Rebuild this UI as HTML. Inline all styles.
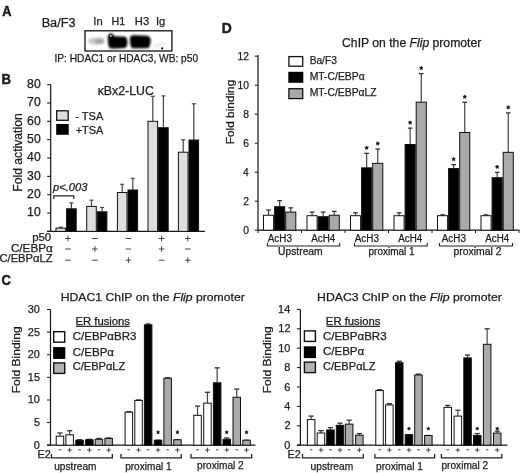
<!DOCTYPE html>
<html><head><meta charset="utf-8"><style>
html,body{margin:0;padding:0;background:#fff;overflow:hidden;}
svg{display:block;font-family:"Liberation Sans", sans-serif;will-change:transform;}
text{fill:#1c1c1c;stroke:#1c1c1c;stroke-width:0.25px;}
</style></head><body>
<svg width="520" height="473" viewBox="0 0 520 473">
<defs><filter id="blur1" x="-50%" y="-50%" width="200%" height="200%"><feGaussianBlur stdDeviation="0.8"/></filter><filter id="blur2" x="-100%" y="-100%" width="300%" height="300%"><feGaussianBlur stdDeviation="0.4"/></filter></defs>
<rect width="520" height="473" fill="#fff"/>
<text x="2.18" y="15.50" font-size="14.2" font-weight="bold" textLength="9.27" lengthAdjust="spacingAndGlyphs" style="stroke-width:0.5px">A</text>
<text x="41.65" y="27.00" font-size="12.3" textLength="33.89" lengthAdjust="spacingAndGlyphs" >Ba/F3</text>
<text x="93.36" y="24.60" font-size="10.8" textLength="9.36" lengthAdjust="spacingAndGlyphs" >In</text>
<text x="111.42" y="24.60" font-size="10.8" textLength="13.70" lengthAdjust="spacingAndGlyphs" >H1</text>
<text x="134.88" y="24.60" font-size="10.8" textLength="14.31" lengthAdjust="spacingAndGlyphs" >H3</text>
<text x="155.96" y="24.60" font-size="10.8" textLength="9.36" lengthAdjust="spacingAndGlyphs" >Ig</text>
<rect x="85.00" y="30.80" width="86.90" height="20.20" fill="#fff" stroke="#111" stroke-width="1.3"/>
<g filter="url(#blur1)">
<path d="M88,40.5 Q89,37.5 94,38 Q100,37 103.5,38.5 Q105,41 104,43.5 Q99,45 93,44.5 Q88.5,44 88,40.5 Z" fill="#c6c6c6"/>
<path d="M95,39.5 Q100,38.3 103.3,39.5 Q104,42 103,43.2 Q99,44 95.5,43.5 Z" fill="#a2a2a2"/>
<path d="M107.8,38 Q108,34.2 111,33.8 Q113.5,34.5 114,36.2 Q120,36 125.5,36.8 Q127.6,38.5 127.4,42 Q127.5,46.5 125,48 Q117,48.8 110,48.2 Q107.6,46 107.8,38 Z" fill="#030303"/>
<path d="M130,37.5 Q130.5,35.2 134,35.3 Q142,35.6 148,36 Q150.8,37 150.7,41 Q150.5,45 148.5,48 Q140,48.5 132,48.3 Q129.8,46 130,37.5 Z" fill="#030303"/>
<path d="M153.5,46.2 Q160,44 168,41.2 Q166,43.8 154,47 Z" fill="#cfcfcf"/>
<circle cx="110.9" cy="36.0" r="2.6" fill="#030303"/>
</g>
<circle cx="110.9" cy="35.9" r="0.9" fill="#e0e0e0" filter="url(#blur2)"/>
<circle cx="162.2" cy="48.4" r="1.1" fill="#111"/>
<text x="54.46" y="61.50" font-size="10.3" textLength="143.63" lengthAdjust="spacingAndGlyphs" >IP: HDAC1 or HDAC3, WB: p50</text>
<text x="1.51" y="84.40" font-size="14.2" font-weight="bold" textLength="9.47" lengthAdjust="spacingAndGlyphs" style="stroke-width:0.5px">B</text>
<line x1="50.70" y1="84.40" x2="50.70" y2="231.40" stroke="#151515" stroke-width="1.2"/>
<line x1="47.20" y1="231.40" x2="204.90" y2="231.40" stroke="#151515" stroke-width="1.2"/>
<line x1="47.20" y1="231.40" x2="50.70" y2="231.40" stroke="#151515" stroke-width="1.1"/>
<line x1="47.20" y1="213.06" x2="50.70" y2="213.06" stroke="#151515" stroke-width="1.1"/>
<text x="27.12" y="216.46" font-size="12.2" textLength="13.57" lengthAdjust="spacingAndGlyphs" >10</text>
<line x1="47.20" y1="194.72" x2="50.70" y2="194.72" stroke="#151515" stroke-width="1.1"/>
<text x="27.12" y="198.12" font-size="12.2" textLength="13.57" lengthAdjust="spacingAndGlyphs" >20</text>
<line x1="47.20" y1="176.38" x2="50.70" y2="176.38" stroke="#151515" stroke-width="1.1"/>
<text x="27.12" y="179.78" font-size="12.2" textLength="13.57" lengthAdjust="spacingAndGlyphs" >30</text>
<line x1="47.20" y1="158.04" x2="50.70" y2="158.04" stroke="#151515" stroke-width="1.1"/>
<text x="27.12" y="161.44" font-size="12.2" textLength="13.57" lengthAdjust="spacingAndGlyphs" >40</text>
<line x1="47.20" y1="139.70" x2="50.70" y2="139.70" stroke="#151515" stroke-width="1.1"/>
<text x="27.12" y="143.10" font-size="12.2" textLength="13.57" lengthAdjust="spacingAndGlyphs" >50</text>
<line x1="47.20" y1="121.36" x2="50.70" y2="121.36" stroke="#151515" stroke-width="1.1"/>
<text x="27.12" y="124.76" font-size="12.2" textLength="13.57" lengthAdjust="spacingAndGlyphs" >60</text>
<line x1="47.20" y1="103.02" x2="50.70" y2="103.02" stroke="#151515" stroke-width="1.1"/>
<text x="27.12" y="106.42" font-size="12.2" textLength="13.57" lengthAdjust="spacingAndGlyphs" >70</text>
<line x1="47.20" y1="84.68" x2="50.70" y2="84.68" stroke="#151515" stroke-width="1.1"/>
<text x="27.12" y="88.08" font-size="12.2" textLength="13.57" lengthAdjust="spacingAndGlyphs" >80</text>
<text transform="translate(21.60,191.70) rotate(-90)" x="0" y="0" font-size="12.0" textLength="78.37" lengthAdjust="spacingAndGlyphs">Fold activation</text>
<text x="97.67" y="94.90" font-size="12.1" textLength="56.19" lengthAdjust="spacingAndGlyphs" >κBx2-LUC</text>
<rect x="56.70" y="110.80" width="11.50" height="9.50" fill="#dedede" stroke="#111" stroke-width="1.3"/>
<rect x="56.20" y="124.00" width="12.50" height="10.80" fill="#000" stroke="#000" stroke-width="0"/>
<text x="75.20" y="119.80" font-size="11.2" textLength="28.13" lengthAdjust="spacingAndGlyphs" >- TSA</text>
<text x="75.68" y="133.60" font-size="11.0" textLength="27.63" lengthAdjust="spacingAndGlyphs" >+TSA</text>
<line x1="60.80" y1="227.20" x2="60.80" y2="228.10" stroke="#444" stroke-width="1.2"/>
<line x1="58.80" y1="227.20" x2="62.80" y2="227.20" stroke="#444" stroke-width="1.2"/>
<rect x="56.00" y="228.10" width="9.60" height="3.30" fill="#dedede" stroke="#111" stroke-width="1"/>
<line x1="71.40" y1="202.90" x2="71.40" y2="208.80" stroke="#444" stroke-width="1.2"/>
<line x1="69.40" y1="202.90" x2="73.40" y2="202.90" stroke="#444" stroke-width="1.2"/>
<rect x="66.60" y="208.80" width="9.60" height="22.60" fill="#000" stroke="#111" stroke-width="1"/>
<line x1="91.50" y1="200.20" x2="91.50" y2="206.40" stroke="#444" stroke-width="1.2"/>
<line x1="89.50" y1="200.20" x2="93.50" y2="200.20" stroke="#444" stroke-width="1.2"/>
<rect x="86.70" y="206.40" width="9.60" height="25.00" fill="#dedede" stroke="#111" stroke-width="1"/>
<line x1="102.10" y1="207.50" x2="102.10" y2="211.80" stroke="#444" stroke-width="1.2"/>
<line x1="100.10" y1="207.50" x2="104.10" y2="207.50" stroke="#444" stroke-width="1.2"/>
<rect x="97.30" y="211.80" width="9.60" height="19.60" fill="#000" stroke="#111" stroke-width="1"/>
<line x1="122.20" y1="184.30" x2="122.20" y2="192.50" stroke="#444" stroke-width="1.2"/>
<line x1="120.20" y1="184.30" x2="124.20" y2="184.30" stroke="#444" stroke-width="1.2"/>
<rect x="117.40" y="192.50" width="9.60" height="38.90" fill="#dedede" stroke="#111" stroke-width="1"/>
<line x1="132.80" y1="178.30" x2="132.80" y2="190.00" stroke="#444" stroke-width="1.2"/>
<line x1="130.80" y1="178.30" x2="134.80" y2="178.30" stroke="#444" stroke-width="1.2"/>
<rect x="128.00" y="190.00" width="9.60" height="41.40" fill="#000" stroke="#111" stroke-width="1"/>
<line x1="152.80" y1="96.30" x2="152.80" y2="121.30" stroke="#444" stroke-width="1.2"/>
<line x1="150.80" y1="96.30" x2="154.80" y2="96.30" stroke="#444" stroke-width="1.2"/>
<rect x="148.00" y="121.30" width="9.60" height="110.10" fill="#dedede" stroke="#111" stroke-width="1"/>
<line x1="163.40" y1="95.90" x2="163.40" y2="127.70" stroke="#444" stroke-width="1.2"/>
<line x1="161.40" y1="95.90" x2="165.40" y2="95.90" stroke="#444" stroke-width="1.2"/>
<rect x="158.60" y="127.70" width="9.60" height="103.70" fill="#000" stroke="#111" stroke-width="1"/>
<line x1="183.20" y1="139.80" x2="183.20" y2="152.20" stroke="#444" stroke-width="1.2"/>
<line x1="181.20" y1="139.80" x2="185.20" y2="139.80" stroke="#444" stroke-width="1.2"/>
<rect x="178.40" y="152.20" width="9.60" height="79.20" fill="#dedede" stroke="#111" stroke-width="1"/>
<line x1="193.80" y1="103.80" x2="193.80" y2="140.00" stroke="#444" stroke-width="1.2"/>
<line x1="191.80" y1="103.80" x2="195.80" y2="103.80" stroke="#444" stroke-width="1.2"/>
<rect x="189.00" y="140.00" width="9.60" height="91.40" fill="#000" stroke="#111" stroke-width="1"/>
<text x="52.98" y="191.10" font-size="10.6" font-style="italic" textLength="34.42" lengthAdjust="spacingAndGlyphs" >p&lt;.003</text>
<path d="M53.8,199 V195.8 H73.8 V199" fill="none" stroke="#222" stroke-width="1.2"/>
<text x="32.16" y="241.00" font-size="11.0" textLength="19.08" lengthAdjust="spacingAndGlyphs" >p50</text>
<text x="10.91" y="251.90" font-size="11.0" textLength="41.93" lengthAdjust="spacingAndGlyphs" >C/EBPα</text>
<text x="-0.56" y="262.30" font-size="11.0" textLength="53.11" lengthAdjust="spacingAndGlyphs" >C/EBPαLZ</text>
<line x1="65.10" y1="238.50" x2="70.70" y2="238.50" stroke="#333" stroke-width="0.9"/>
<line x1="67.90" y1="235.70" x2="67.90" y2="241.30" stroke="#333" stroke-width="0.9"/>
<line x1="92.10" y1="238.50" x2="97.70" y2="238.50" stroke="#333" stroke-width="0.9"/>
<line x1="125.60" y1="238.50" x2="131.20" y2="238.50" stroke="#333" stroke-width="0.9"/>
<line x1="158.80" y1="238.50" x2="164.40" y2="238.50" stroke="#333" stroke-width="0.9"/>
<line x1="161.60" y1="235.70" x2="161.60" y2="241.30" stroke="#333" stroke-width="0.9"/>
<line x1="185.00" y1="238.50" x2="190.60" y2="238.50" stroke="#333" stroke-width="0.9"/>
<line x1="187.80" y1="235.70" x2="187.80" y2="241.30" stroke="#333" stroke-width="0.9"/>
<line x1="65.10" y1="249.00" x2="70.70" y2="249.00" stroke="#333" stroke-width="0.9"/>
<line x1="92.10" y1="249.00" x2="97.70" y2="249.00" stroke="#333" stroke-width="0.9"/>
<line x1="94.90" y1="246.20" x2="94.90" y2="251.80" stroke="#333" stroke-width="0.9"/>
<line x1="125.60" y1="249.00" x2="131.20" y2="249.00" stroke="#333" stroke-width="0.9"/>
<line x1="158.80" y1="249.00" x2="164.40" y2="249.00" stroke="#333" stroke-width="0.9"/>
<line x1="161.60" y1="246.20" x2="161.60" y2="251.80" stroke="#333" stroke-width="0.9"/>
<line x1="185.00" y1="249.00" x2="190.60" y2="249.00" stroke="#333" stroke-width="0.9"/>
<line x1="65.10" y1="260.20" x2="70.70" y2="260.20" stroke="#333" stroke-width="0.9"/>
<line x1="92.10" y1="260.20" x2="97.70" y2="260.20" stroke="#333" stroke-width="0.9"/>
<line x1="125.60" y1="260.20" x2="131.20" y2="260.20" stroke="#333" stroke-width="0.9"/>
<line x1="128.40" y1="257.40" x2="128.40" y2="263.00" stroke="#333" stroke-width="0.9"/>
<line x1="158.80" y1="260.20" x2="164.40" y2="260.20" stroke="#333" stroke-width="0.9"/>
<line x1="185.00" y1="260.20" x2="190.60" y2="260.20" stroke="#333" stroke-width="0.9"/>
<line x1="187.80" y1="257.40" x2="187.80" y2="263.00" stroke="#333" stroke-width="0.9"/>
<text x="221.66" y="33.30" font-size="14.2" font-weight="bold" textLength="10.02" lengthAdjust="spacingAndGlyphs" style="stroke-width:0.5px">D</text>
<text x="342.09" y="47.10" font-size="12.0" textLength="139.18" lengthAdjust="spacingAndGlyphs" xml:space="preserve">ChIP on the <tspan font-style="italic">Flip</tspan> promoter</text>
<line x1="258.00" y1="55.00" x2="258.00" y2="230.20" stroke="#151515" stroke-width="1.2"/>
<line x1="258.00" y1="230.20" x2="519.50" y2="230.20" stroke="#151515" stroke-width="1.2"/>
<line x1="254.70" y1="230.20" x2="258.00" y2="230.20" stroke="#151515" stroke-width="1"/>
<text x="243.17" y="233.80" font-size="10.3" textLength="5.73" lengthAdjust="spacingAndGlyphs" >0</text>
<line x1="254.70" y1="201.20" x2="258.00" y2="201.20" stroke="#151515" stroke-width="1"/>
<text x="243.30" y="204.80" font-size="10.3" textLength="5.73" lengthAdjust="spacingAndGlyphs" >2</text>
<line x1="254.70" y1="172.20" x2="258.00" y2="172.20" stroke="#151515" stroke-width="1"/>
<text x="243.07" y="175.80" font-size="10.3" textLength="5.73" lengthAdjust="spacingAndGlyphs" >4</text>
<line x1="254.70" y1="143.20" x2="258.00" y2="143.20" stroke="#151515" stroke-width="1"/>
<text x="243.22" y="146.80" font-size="10.3" textLength="5.73" lengthAdjust="spacingAndGlyphs" >6</text>
<line x1="254.70" y1="114.20" x2="258.00" y2="114.20" stroke="#151515" stroke-width="1"/>
<text x="243.22" y="117.80" font-size="10.3" textLength="5.73" lengthAdjust="spacingAndGlyphs" >8</text>
<line x1="254.70" y1="85.20" x2="258.00" y2="85.20" stroke="#151515" stroke-width="1"/>
<text x="237.45" y="88.80" font-size="10.3" textLength="11.46" lengthAdjust="spacingAndGlyphs" >10</text>
<line x1="254.70" y1="56.20" x2="258.00" y2="56.20" stroke="#151515" stroke-width="1"/>
<text x="237.58" y="59.80" font-size="10.3" textLength="11.46" lengthAdjust="spacingAndGlyphs" >12</text>
<line x1="258.00" y1="230.20" x2="258.00" y2="233.00" stroke="#151515" stroke-width="1"/>
<line x1="301.50" y1="230.20" x2="301.50" y2="233.00" stroke="#151515" stroke-width="1"/>
<line x1="345.00" y1="230.20" x2="345.00" y2="233.00" stroke="#151515" stroke-width="1"/>
<line x1="388.50" y1="230.20" x2="388.50" y2="233.00" stroke="#151515" stroke-width="1"/>
<line x1="432.00" y1="230.20" x2="432.00" y2="233.00" stroke="#151515" stroke-width="1"/>
<line x1="475.50" y1="230.20" x2="475.50" y2="233.00" stroke="#151515" stroke-width="1"/>
<line x1="519.00" y1="230.20" x2="519.00" y2="233.00" stroke="#151515" stroke-width="1"/>
<text transform="translate(233.50,144.18) rotate(-90)" x="0" y="0" font-size="10.8" textLength="64.43" lengthAdjust="spacingAndGlyphs">Fold binding</text>
<rect x="288.90" y="56.60" width="13.80" height="9.60" fill="#fff" stroke="#111" stroke-width="1.3"/>
<rect x="288.30" y="71.80" width="15.00" height="11.00" fill="#000" stroke="#000" stroke-width="0"/>
<rect x="288.90" y="88.70" width="13.80" height="9.90" fill="#aaa" stroke="#111" stroke-width="1.3"/>
<text x="309.66" y="63.70" font-size="10.8" textLength="27.18" lengthAdjust="spacingAndGlyphs" >Ba/F3</text>
<text x="309.64" y="79.60" font-size="10.8" textLength="55.05" lengthAdjust="spacingAndGlyphs" >MT-C/EBPα</text>
<text x="309.64" y="95.80" font-size="10.8" textLength="67.07" lengthAdjust="spacingAndGlyphs" >MT-C/EBPαLZ</text>
<line x1="268.55" y1="210.04" x2="268.55" y2="215.26" stroke="#444" stroke-width="1.2"/>
<line x1="266.25" y1="210.04" x2="270.85" y2="210.04" stroke="#333" stroke-width="1.3"/>
<rect x="263.50" y="215.26" width="10.10" height="14.94" fill="#fff" stroke="#111" stroke-width="1"/>
<line x1="279.65" y1="200.62" x2="279.65" y2="206.71" stroke="#444" stroke-width="1.2"/>
<line x1="277.35" y1="200.62" x2="281.95" y2="200.62" stroke="#333" stroke-width="1.3"/>
<rect x="274.60" y="206.71" width="10.10" height="23.49" fill="#000" stroke="#111" stroke-width="1"/>
<line x1="290.75" y1="207.87" x2="290.75" y2="212.07" stroke="#444" stroke-width="1.2"/>
<line x1="288.45" y1="207.87" x2="293.05" y2="207.87" stroke="#333" stroke-width="1.3"/>
<rect x="285.70" y="212.07" width="10.10" height="18.12" fill="#aaa" stroke="#111" stroke-width="1"/>
<text x="267.78" y="241.50" font-size="10.0" textLength="24.15" lengthAdjust="spacingAndGlyphs" >AcH3</text>
<line x1="312.05" y1="212.07" x2="312.05" y2="215.70" stroke="#444" stroke-width="1.2"/>
<line x1="309.75" y1="212.07" x2="314.35" y2="212.07" stroke="#333" stroke-width="1.3"/>
<rect x="307.00" y="215.70" width="10.10" height="14.50" fill="#fff" stroke="#111" stroke-width="1"/>
<line x1="323.15" y1="212.07" x2="323.15" y2="216.71" stroke="#444" stroke-width="1.2"/>
<line x1="320.85" y1="212.07" x2="325.45" y2="212.07" stroke="#333" stroke-width="1.3"/>
<rect x="318.10" y="216.71" width="10.10" height="13.49" fill="#000" stroke="#111" stroke-width="1"/>
<line x1="334.25" y1="211.35" x2="334.25" y2="215.26" stroke="#444" stroke-width="1.2"/>
<line x1="331.95" y1="211.35" x2="336.55" y2="211.35" stroke="#333" stroke-width="1.3"/>
<rect x="329.20" y="215.26" width="10.10" height="14.94" fill="#aaa" stroke="#111" stroke-width="1"/>
<text x="311.28" y="241.50" font-size="10.0" textLength="24.00" lengthAdjust="spacingAndGlyphs" >AcH4</text>
<line x1="355.55" y1="212.80" x2="355.55" y2="215.70" stroke="#444" stroke-width="1.2"/>
<line x1="353.25" y1="212.80" x2="357.85" y2="212.80" stroke="#333" stroke-width="1.3"/>
<rect x="350.50" y="215.70" width="10.10" height="14.50" fill="#fff" stroke="#111" stroke-width="1"/>
<line x1="366.65" y1="153.35" x2="366.65" y2="167.85" stroke="#444" stroke-width="1.2"/>
<line x1="364.35" y1="153.35" x2="368.95" y2="153.35" stroke="#333" stroke-width="1.3"/>
<rect x="361.60" y="167.85" width="10.10" height="62.35" fill="#000" stroke="#111" stroke-width="1"/>
<polygon points="366.65,145.95 367.21,147.08 368.46,147.26 367.55,148.14 367.77,149.39 366.65,148.80 365.53,149.39 365.75,148.14 364.84,147.26 366.09,147.08" fill="#111" stroke="#111" stroke-width="0.6" stroke-linejoin="round"/>
<line x1="377.75" y1="149.00" x2="377.75" y2="163.35" stroke="#444" stroke-width="1.2"/>
<line x1="375.45" y1="149.00" x2="380.05" y2="149.00" stroke="#333" stroke-width="1.3"/>
<rect x="372.70" y="163.35" width="10.10" height="66.84" fill="#aaa" stroke="#111" stroke-width="1"/>
<polygon points="377.75,141.60 378.31,142.73 379.56,142.91 378.65,143.79 378.87,145.04 377.75,144.45 376.63,145.04 376.85,143.79 375.94,142.91 377.19,142.73" fill="#111" stroke="#111" stroke-width="0.6" stroke-linejoin="round"/>
<text x="354.78" y="241.50" font-size="10.0" textLength="24.15" lengthAdjust="spacingAndGlyphs" >AcH3</text>
<line x1="399.05" y1="212.80" x2="399.05" y2="215.70" stroke="#444" stroke-width="1.2"/>
<line x1="396.75" y1="212.80" x2="401.35" y2="212.80" stroke="#333" stroke-width="1.3"/>
<rect x="394.00" y="215.70" width="10.10" height="14.50" fill="#fff" stroke="#111" stroke-width="1"/>
<line x1="410.15" y1="128.12" x2="410.15" y2="144.50" stroke="#444" stroke-width="1.2"/>
<line x1="407.85" y1="128.12" x2="412.45" y2="128.12" stroke="#333" stroke-width="1.3"/>
<rect x="405.10" y="144.50" width="10.10" height="85.69" fill="#000" stroke="#111" stroke-width="1"/>
<polygon points="410.15,120.72 410.71,121.85 411.96,122.03 411.05,122.91 411.27,124.16 410.15,123.57 409.03,124.16 409.25,122.91 408.34,122.03 409.59,121.85" fill="#111" stroke="#111" stroke-width="0.6" stroke-linejoin="round"/>
<line x1="421.25" y1="73.60" x2="421.25" y2="102.16" stroke="#444" stroke-width="1.2"/>
<line x1="418.95" y1="73.60" x2="423.55" y2="73.60" stroke="#333" stroke-width="1.3"/>
<rect x="416.20" y="102.16" width="10.10" height="128.03" fill="#aaa" stroke="#111" stroke-width="1"/>
<polygon points="421.25,66.20 421.81,67.33 423.06,67.51 422.15,68.39 422.37,69.64 421.25,69.05 420.13,69.64 420.35,68.39 419.44,67.51 420.69,67.33" fill="#111" stroke="#111" stroke-width="0.6" stroke-linejoin="round"/>
<text x="398.28" y="241.50" font-size="10.0" textLength="24.00" lengthAdjust="spacingAndGlyphs" >AcH4</text>
<line x1="442.55" y1="214.83" x2="442.55" y2="215.70" stroke="#444" stroke-width="1.2"/>
<line x1="440.25" y1="214.83" x2="444.85" y2="214.83" stroke="#333" stroke-width="1.3"/>
<rect x="437.50" y="215.70" width="10.10" height="14.50" fill="#fff" stroke="#111" stroke-width="1"/>
<line x1="453.65" y1="164.66" x2="453.65" y2="168.57" stroke="#444" stroke-width="1.2"/>
<line x1="451.35" y1="164.66" x2="455.95" y2="164.66" stroke="#333" stroke-width="1.3"/>
<rect x="448.60" y="168.57" width="10.10" height="61.62" fill="#000" stroke="#111" stroke-width="1"/>
<polygon points="453.65,157.26 454.21,158.39 455.46,158.57 454.55,159.45 454.77,160.70 453.65,160.11 452.53,160.70 452.75,159.45 451.84,158.57 453.09,158.39" fill="#111" stroke="#111" stroke-width="0.6" stroke-linejoin="round"/>
<line x1="464.75" y1="102.31" x2="464.75" y2="132.47" stroke="#444" stroke-width="1.2"/>
<line x1="462.45" y1="102.31" x2="467.05" y2="102.31" stroke="#333" stroke-width="1.3"/>
<rect x="459.70" y="132.47" width="10.10" height="97.73" fill="#aaa" stroke="#111" stroke-width="1"/>
<polygon points="464.75,94.91 465.31,96.04 466.56,96.22 465.65,97.10 465.87,98.35 464.75,97.76 463.63,98.35 463.85,97.10 462.94,96.22 464.19,96.04" fill="#111" stroke="#111" stroke-width="0.6" stroke-linejoin="round"/>
<text x="441.78" y="241.50" font-size="10.0" textLength="24.15" lengthAdjust="spacingAndGlyphs" >AcH3</text>
<line x1="486.05" y1="214.83" x2="486.05" y2="215.70" stroke="#444" stroke-width="1.2"/>
<line x1="483.75" y1="214.83" x2="488.35" y2="214.83" stroke="#333" stroke-width="1.3"/>
<rect x="481.00" y="215.70" width="10.10" height="14.50" fill="#fff" stroke="#111" stroke-width="1"/>
<line x1="497.15" y1="172.34" x2="497.15" y2="177.71" stroke="#444" stroke-width="1.2"/>
<line x1="494.85" y1="172.34" x2="499.45" y2="172.34" stroke="#333" stroke-width="1.3"/>
<rect x="492.10" y="177.71" width="10.10" height="52.49" fill="#000" stroke="#111" stroke-width="1"/>
<polygon points="497.15,164.94 497.71,166.08 498.96,166.26 498.05,167.14 498.27,168.38 497.15,167.79 496.03,168.38 496.25,167.14 495.34,166.26 496.59,166.08" fill="#111" stroke="#111" stroke-width="0.6" stroke-linejoin="round"/>
<line x1="508.25" y1="112.89" x2="508.25" y2="152.33" stroke="#444" stroke-width="1.2"/>
<line x1="505.95" y1="112.89" x2="510.55" y2="112.89" stroke="#333" stroke-width="1.3"/>
<rect x="503.20" y="152.33" width="10.10" height="77.87" fill="#aaa" stroke="#111" stroke-width="1"/>
<polygon points="508.25,105.49 508.81,106.63 510.06,106.81 509.15,107.69 509.37,108.93 508.25,108.34 507.13,108.93 507.35,107.69 506.44,106.81 507.69,106.63" fill="#111" stroke="#111" stroke-width="0.6" stroke-linejoin="round"/>
<text x="485.28" y="241.50" font-size="10.0" textLength="24.00" lengthAdjust="spacingAndGlyphs" >AcH4</text>
<path d="M267.40,243 V246 H339.70 V243" fill="none" stroke="#222" stroke-width="1.1"/>
<text x="278.10" y="254.60" font-size="10.0" textLength="44.56" lengthAdjust="spacingAndGlyphs" >Upstream</text>
<path d="M354.50,243 V246 H427.20 V243" fill="none" stroke="#222" stroke-width="1.1"/>
<text x="368.55" y="254.60" font-size="10.0" textLength="46.13" lengthAdjust="spacingAndGlyphs" >proximal 1</text>
<path d="M439.50,243 V246 H512.50 V243" fill="none" stroke="#222" stroke-width="1.1"/>
<text x="453.52" y="254.60" font-size="10.0" textLength="48.00" lengthAdjust="spacingAndGlyphs" >proximal 2</text>
<text x="1.49" y="285.40" font-size="14.2" font-weight="bold" textLength="9.26" lengthAdjust="spacingAndGlyphs" style="stroke-width:0.5px">C</text>
<text x="60.69" y="301.10" font-size="11.2" textLength="184.08" lengthAdjust="spacingAndGlyphs" xml:space="preserve">HDAC1 ChIP on the <tspan font-style="italic">Flip</tspan> promoter</text>
<line x1="50.50" y1="309.51" x2="50.50" y2="445.20" stroke="#151515" stroke-width="1.2"/>
<line x1="47.00" y1="445.20" x2="255.50" y2="445.20" stroke="#151515" stroke-width="1.2"/>
<line x1="47.00" y1="445.20" x2="50.50" y2="445.20" stroke="#151515" stroke-width="1"/>
<text x="33.86" y="448.70" font-size="10.9" textLength="6.06" lengthAdjust="spacingAndGlyphs" >0</text>
<line x1="47.00" y1="422.58" x2="50.50" y2="422.58" stroke="#151515" stroke-width="1"/>
<text x="33.89" y="426.08" font-size="10.9" textLength="6.06" lengthAdjust="spacingAndGlyphs" >5</text>
<line x1="47.00" y1="399.97" x2="50.50" y2="399.97" stroke="#151515" stroke-width="1"/>
<text x="27.81" y="403.47" font-size="10.9" textLength="12.12" lengthAdjust="spacingAndGlyphs" >10</text>
<line x1="47.00" y1="377.36" x2="50.50" y2="377.36" stroke="#151515" stroke-width="1"/>
<text x="27.84" y="380.86" font-size="10.9" textLength="12.12" lengthAdjust="spacingAndGlyphs" >15</text>
<line x1="47.00" y1="354.74" x2="50.50" y2="354.74" stroke="#151515" stroke-width="1"/>
<text x="27.81" y="358.24" font-size="10.9" textLength="12.12" lengthAdjust="spacingAndGlyphs" >20</text>
<line x1="47.00" y1="332.12" x2="50.50" y2="332.12" stroke="#151515" stroke-width="1"/>
<text x="27.84" y="335.62" font-size="10.9" textLength="12.12" lengthAdjust="spacingAndGlyphs" >25</text>
<line x1="47.00" y1="309.51" x2="50.50" y2="309.51" stroke="#151515" stroke-width="1"/>
<text x="27.81" y="313.01" font-size="10.9" textLength="12.12" lengthAdjust="spacingAndGlyphs" >30</text>
<text transform="translate(20.00,393.29) rotate(-90)" x="0" y="0" font-size="11.8" textLength="66.97" lengthAdjust="spacingAndGlyphs">Fold Binding</text>
<text x="75.47" y="324.70" font-size="10.0" textLength="54.53" lengthAdjust="spacingAndGlyphs" >ER fusions</text>
<line x1="76.10" y1="326.40" x2="129.70" y2="326.40" stroke="#333" stroke-width="1.1"/>
<rect x="53.70" y="331.70" width="11.00" height="10.50" fill="#fff" stroke="#111" stroke-width="1.4"/>
<rect x="53.10" y="347.10" width="12.20" height="11.80" fill="#000" stroke="#000" stroke-width="0"/>
<rect x="53.70" y="362.90" width="11.00" height="10.50" fill="#b3b3b3" stroke="#111" stroke-width="1.4"/>
<text x="72.72" y="340.30" font-size="10.8" textLength="63.69" lengthAdjust="spacingAndGlyphs" >C/EBPαBR3</text>
<text x="72.72" y="355.60" font-size="10.8" textLength="41.31" lengthAdjust="spacingAndGlyphs" >C/EBPα</text>
<text x="72.75" y="370.40" font-size="10.8" textLength="52.50" lengthAdjust="spacingAndGlyphs" >C/EBPαLZ</text>
<line x1="59.95" y1="432.99" x2="59.95" y2="436.15" stroke="#444" stroke-width="1.2"/>
<line x1="57.35" y1="432.99" x2="62.55" y2="432.99" stroke="#333" stroke-width="1.3"/>
<rect x="56.20" y="436.15" width="7.50" height="9.05" fill="#fff" stroke="#111" stroke-width="1"/>
<line x1="58.65" y1="449.80" x2="61.25" y2="449.80" stroke="#333" stroke-width="0.9"/>
<line x1="69.65" y1="430.73" x2="69.65" y2="434.80" stroke="#444" stroke-width="1.2"/>
<line x1="67.05" y1="430.73" x2="72.25" y2="430.73" stroke="#333" stroke-width="1.3"/>
<rect x="65.90" y="434.80" width="7.50" height="10.40" fill="#fff" stroke="#111" stroke-width="1"/>
<line x1="67.35" y1="450.00" x2="71.95" y2="450.00" stroke="#333" stroke-width="0.9"/>
<line x1="69.65" y1="447.70" x2="69.65" y2="452.30" stroke="#333" stroke-width="0.9"/>
<line x1="79.55" y1="439.77" x2="79.55" y2="440.22" stroke="#444" stroke-width="1.2"/>
<line x1="76.95" y1="439.77" x2="82.15" y2="439.77" stroke="#333" stroke-width="1.3"/>
<rect x="75.80" y="440.22" width="7.50" height="4.98" fill="#000" stroke="#111" stroke-width="1"/>
<line x1="78.25" y1="449.80" x2="80.85" y2="449.80" stroke="#333" stroke-width="0.9"/>
<line x1="89.35" y1="439.32" x2="89.35" y2="439.77" stroke="#444" stroke-width="1.2"/>
<line x1="86.75" y1="439.32" x2="91.95" y2="439.32" stroke="#333" stroke-width="1.3"/>
<rect x="85.60" y="439.77" width="7.50" height="5.43" fill="#000" stroke="#111" stroke-width="1"/>
<line x1="87.05" y1="450.00" x2="91.65" y2="450.00" stroke="#333" stroke-width="0.9"/>
<line x1="89.35" y1="447.70" x2="89.35" y2="452.30" stroke="#333" stroke-width="0.9"/>
<line x1="98.95" y1="438.42" x2="98.95" y2="439.32" stroke="#444" stroke-width="1.2"/>
<line x1="96.35" y1="438.42" x2="101.55" y2="438.42" stroke="#333" stroke-width="1.3"/>
<rect x="95.20" y="439.32" width="7.50" height="5.88" fill="#aaa" stroke="#111" stroke-width="1"/>
<line x1="97.65" y1="449.80" x2="100.25" y2="449.80" stroke="#333" stroke-width="0.9"/>
<line x1="108.65" y1="437.96" x2="108.65" y2="438.42" stroke="#444" stroke-width="1.2"/>
<line x1="106.05" y1="437.96" x2="111.25" y2="437.96" stroke="#333" stroke-width="1.3"/>
<rect x="104.90" y="438.42" width="7.50" height="6.78" fill="#aaa" stroke="#111" stroke-width="1"/>
<line x1="106.35" y1="450.00" x2="110.95" y2="450.00" stroke="#333" stroke-width="0.9"/>
<line x1="108.65" y1="447.70" x2="108.65" y2="452.30" stroke="#333" stroke-width="0.9"/>
<path d="M51.50,454 V457.8 H112.30 V454" fill="none" stroke="#222" stroke-width="1.3"/>
<text x="54.24" y="470.20" font-size="10.2" textLength="42.23" lengthAdjust="spacingAndGlyphs" >upstream</text>
<line x1="128.85" y1="411.73" x2="128.85" y2="412.18" stroke="#444" stroke-width="1.2"/>
<line x1="126.25" y1="411.73" x2="131.45" y2="411.73" stroke="#333" stroke-width="1.3"/>
<rect x="125.10" y="412.18" width="7.50" height="33.02" fill="#fff" stroke="#111" stroke-width="1"/>
<line x1="127.55" y1="449.80" x2="130.15" y2="449.80" stroke="#333" stroke-width="0.9"/>
<line x1="138.55" y1="399.97" x2="138.55" y2="400.42" stroke="#444" stroke-width="1.2"/>
<line x1="135.95" y1="399.97" x2="141.15" y2="399.97" stroke="#333" stroke-width="1.3"/>
<rect x="134.80" y="400.42" width="7.50" height="44.78" fill="#fff" stroke="#111" stroke-width="1"/>
<line x1="136.25" y1="450.00" x2="140.85" y2="450.00" stroke="#333" stroke-width="0.9"/>
<line x1="138.55" y1="447.70" x2="138.55" y2="452.30" stroke="#333" stroke-width="0.9"/>
<line x1="148.15" y1="323.98" x2="148.15" y2="324.89" stroke="#444" stroke-width="1.2"/>
<line x1="145.55" y1="323.98" x2="150.75" y2="323.98" stroke="#333" stroke-width="1.3"/>
<rect x="144.40" y="324.89" width="7.50" height="120.31" fill="#000" stroke="#111" stroke-width="1"/>
<line x1="146.85" y1="449.80" x2="149.45" y2="449.80" stroke="#333" stroke-width="0.9"/>
<line x1="155.45" y1="440.22" x2="160.65" y2="440.22" stroke="#333" stroke-width="1.3"/>
<rect x="154.30" y="440.22" width="7.50" height="4.98" fill="#000" stroke="#111" stroke-width="1"/>
<polygon points="158.05,430.60 158.55,431.61 159.67,431.77 158.86,432.56 159.05,433.68 158.05,433.15 157.05,433.68 157.24,432.56 156.43,431.77 157.55,431.61" fill="#111" stroke="#111" stroke-width="0.6" stroke-linejoin="round"/>
<line x1="155.75" y1="450.00" x2="160.35" y2="450.00" stroke="#333" stroke-width="0.9"/>
<line x1="158.05" y1="447.70" x2="158.05" y2="452.30" stroke="#333" stroke-width="0.9"/>
<line x1="167.65" y1="377.81" x2="167.65" y2="378.26" stroke="#444" stroke-width="1.2"/>
<line x1="165.05" y1="377.81" x2="170.25" y2="377.81" stroke="#333" stroke-width="1.3"/>
<rect x="163.90" y="378.26" width="7.50" height="66.94" fill="#aaa" stroke="#111" stroke-width="1"/>
<line x1="166.35" y1="449.80" x2="168.95" y2="449.80" stroke="#333" stroke-width="0.9"/>
<line x1="174.85" y1="439.77" x2="180.05" y2="439.77" stroke="#333" stroke-width="1.3"/>
<rect x="173.70" y="439.77" width="7.50" height="5.43" fill="#aaa" stroke="#111" stroke-width="1"/>
<polygon points="177.45,430.60 177.95,431.61 179.07,431.77 178.26,432.56 178.45,433.68 177.45,433.15 176.45,433.68 176.64,432.56 175.83,431.77 176.95,431.61" fill="#111" stroke="#111" stroke-width="0.6" stroke-linejoin="round"/>
<line x1="175.15" y1="450.00" x2="179.75" y2="450.00" stroke="#333" stroke-width="0.9"/>
<line x1="177.45" y1="447.70" x2="177.45" y2="452.30" stroke="#333" stroke-width="0.9"/>
<path d="M121.00,454 V457.8 H181.30 V454" fill="none" stroke="#222" stroke-width="1.3"/>
<text x="125.14" y="470.10" font-size="10.2" textLength="46.54" lengthAdjust="spacingAndGlyphs" >proximal 1</text>
<line x1="197.55" y1="406.08" x2="197.55" y2="415.35" stroke="#444" stroke-width="1.2"/>
<line x1="194.95" y1="406.08" x2="200.15" y2="406.08" stroke="#333" stroke-width="1.3"/>
<rect x="193.80" y="415.35" width="7.50" height="29.85" fill="#fff" stroke="#111" stroke-width="1"/>
<line x1="196.25" y1="449.80" x2="198.85" y2="449.80" stroke="#333" stroke-width="0.9"/>
<line x1="207.45" y1="392.28" x2="207.45" y2="403.14" stroke="#444" stroke-width="1.2"/>
<line x1="204.85" y1="392.28" x2="210.05" y2="392.28" stroke="#333" stroke-width="1.3"/>
<rect x="203.70" y="403.14" width="7.50" height="42.06" fill="#fff" stroke="#111" stroke-width="1"/>
<line x1="205.15" y1="450.00" x2="209.75" y2="450.00" stroke="#333" stroke-width="0.9"/>
<line x1="207.45" y1="447.70" x2="207.45" y2="452.30" stroke="#333" stroke-width="0.9"/>
<line x1="217.15" y1="367.86" x2="217.15" y2="382.78" stroke="#444" stroke-width="1.2"/>
<line x1="214.55" y1="367.86" x2="219.75" y2="367.86" stroke="#333" stroke-width="1.3"/>
<rect x="213.40" y="382.78" width="7.50" height="62.42" fill="#000" stroke="#111" stroke-width="1"/>
<line x1="215.85" y1="449.80" x2="218.45" y2="449.80" stroke="#333" stroke-width="0.9"/>
<line x1="226.75" y1="437.96" x2="226.75" y2="439.32" stroke="#444" stroke-width="1.2"/>
<line x1="224.15" y1="437.96" x2="229.35" y2="437.96" stroke="#333" stroke-width="1.3"/>
<rect x="223.00" y="439.32" width="7.50" height="5.88" fill="#000" stroke="#111" stroke-width="1"/>
<polygon points="226.75,430.60 227.25,431.61 228.37,431.77 227.56,432.56 227.75,433.68 226.75,433.15 225.75,433.68 225.94,432.56 225.13,431.77 226.25,431.61" fill="#111" stroke="#111" stroke-width="0.6" stroke-linejoin="round"/>
<line x1="224.45" y1="450.00" x2="229.05" y2="450.00" stroke="#333" stroke-width="0.9"/>
<line x1="226.75" y1="447.70" x2="226.75" y2="452.30" stroke="#333" stroke-width="0.9"/>
<line x1="236.75" y1="389.11" x2="236.75" y2="397.26" stroke="#444" stroke-width="1.2"/>
<line x1="234.15" y1="389.11" x2="239.35" y2="389.11" stroke="#333" stroke-width="1.3"/>
<rect x="233.00" y="397.26" width="7.50" height="47.94" fill="#aaa" stroke="#111" stroke-width="1"/>
<line x1="235.45" y1="449.80" x2="238.05" y2="449.80" stroke="#333" stroke-width="0.9"/>
<line x1="243.95" y1="440.22" x2="249.15" y2="440.22" stroke="#333" stroke-width="1.3"/>
<rect x="242.80" y="440.22" width="7.50" height="4.98" fill="#aaa" stroke="#111" stroke-width="1"/>
<polygon points="246.55,430.60 247.05,431.61 248.17,431.77 247.36,432.56 247.55,433.68 246.55,433.15 245.55,433.68 245.74,432.56 244.93,431.77 246.05,431.61" fill="#111" stroke="#111" stroke-width="0.6" stroke-linejoin="round"/>
<line x1="244.25" y1="450.00" x2="248.85" y2="450.00" stroke="#333" stroke-width="0.9"/>
<line x1="246.55" y1="447.70" x2="246.55" y2="452.30" stroke="#333" stroke-width="0.9"/>
<path d="M191.00,454 V457.8 H251.70 V454" fill="none" stroke="#222" stroke-width="1.3"/>
<text x="197.04" y="469.40" font-size="10.2" textLength="46.67" lengthAdjust="spacingAndGlyphs" >proximal 2</text>
<text x="37.61" y="457.60" font-size="10.0" textLength="13.24" lengthAdjust="spacingAndGlyphs" >E2</text>
<text x="317.09" y="301.10" font-size="11.2" textLength="184.79" lengthAdjust="spacingAndGlyphs" xml:space="preserve">HDAC3 ChIP on the <tspan font-style="italic">Flip</tspan> promoter</text>
<line x1="300.40" y1="309.40" x2="300.40" y2="445.20" stroke="#151515" stroke-width="1.2"/>
<line x1="296.90" y1="445.20" x2="507.40" y2="445.20" stroke="#151515" stroke-width="1.2"/>
<line x1="296.90" y1="445.20" x2="300.40" y2="445.20" stroke="#151515" stroke-width="1"/>
<text x="284.26" y="448.70" font-size="10.9" textLength="6.06" lengthAdjust="spacingAndGlyphs" >0</text>
<line x1="296.90" y1="425.80" x2="300.40" y2="425.80" stroke="#151515" stroke-width="1"/>
<text x="284.40" y="429.30" font-size="10.9" textLength="6.06" lengthAdjust="spacingAndGlyphs" >2</text>
<line x1="296.90" y1="406.40" x2="300.40" y2="406.40" stroke="#151515" stroke-width="1"/>
<text x="284.15" y="409.90" font-size="10.9" textLength="6.06" lengthAdjust="spacingAndGlyphs" >4</text>
<line x1="296.90" y1="387.00" x2="300.40" y2="387.00" stroke="#151515" stroke-width="1"/>
<text x="284.31" y="390.50" font-size="10.9" textLength="6.06" lengthAdjust="spacingAndGlyphs" >6</text>
<line x1="296.90" y1="367.60" x2="300.40" y2="367.60" stroke="#151515" stroke-width="1"/>
<text x="284.31" y="371.10" font-size="10.9" textLength="6.06" lengthAdjust="spacingAndGlyphs" >8</text>
<line x1="296.90" y1="348.20" x2="300.40" y2="348.20" stroke="#151515" stroke-width="1"/>
<text x="278.21" y="351.70" font-size="10.9" textLength="12.12" lengthAdjust="spacingAndGlyphs" >10</text>
<line x1="296.90" y1="328.80" x2="300.40" y2="328.80" stroke="#151515" stroke-width="1"/>
<text x="278.35" y="332.30" font-size="10.9" textLength="12.12" lengthAdjust="spacingAndGlyphs" >12</text>
<line x1="296.90" y1="309.40" x2="300.40" y2="309.40" stroke="#151515" stroke-width="1"/>
<text x="278.10" y="312.90" font-size="10.9" textLength="12.12" lengthAdjust="spacingAndGlyphs" >14</text>
<text transform="translate(270.60,393.29) rotate(-90)" x="0" y="0" font-size="11.8" textLength="66.97" lengthAdjust="spacingAndGlyphs">Fold Binding</text>
<text x="325.87" y="324.70" font-size="10.0" textLength="54.53" lengthAdjust="spacingAndGlyphs" >ER fusions</text>
<line x1="326.50" y1="326.40" x2="380.10" y2="326.40" stroke="#333" stroke-width="1.1"/>
<rect x="304.40" y="330.90" width="11.00" height="10.50" fill="#fff" stroke="#111" stroke-width="1.4"/>
<rect x="303.80" y="346.30" width="12.20" height="11.80" fill="#000" stroke="#000" stroke-width="0"/>
<rect x="304.40" y="362.10" width="11.00" height="10.50" fill="#b3b3b3" stroke="#111" stroke-width="1.4"/>
<text x="322.92" y="339.50" font-size="10.8" textLength="63.69" lengthAdjust="spacingAndGlyphs" >C/EBPαBR3</text>
<text x="322.92" y="354.80" font-size="10.8" textLength="41.31" lengthAdjust="spacingAndGlyphs" >C/EBPα</text>
<text x="322.95" y="369.60" font-size="10.8" textLength="52.50" lengthAdjust="spacingAndGlyphs" >C/EBPαLZ</text>
<line x1="311.15" y1="416.10" x2="311.15" y2="419.59" stroke="#444" stroke-width="1.2"/>
<line x1="308.55" y1="416.10" x2="313.75" y2="416.10" stroke="#333" stroke-width="1.3"/>
<rect x="307.40" y="419.59" width="7.50" height="25.61" fill="#fff" stroke="#111" stroke-width="1"/>
<line x1="309.85" y1="449.80" x2="312.45" y2="449.80" stroke="#333" stroke-width="0.9"/>
<line x1="320.95" y1="430.65" x2="320.95" y2="432.98" stroke="#444" stroke-width="1.2"/>
<line x1="318.35" y1="430.65" x2="323.55" y2="430.65" stroke="#333" stroke-width="1.3"/>
<rect x="317.20" y="432.98" width="7.50" height="12.22" fill="#fff" stroke="#111" stroke-width="1"/>
<line x1="318.65" y1="450.00" x2="323.25" y2="450.00" stroke="#333" stroke-width="0.9"/>
<line x1="320.95" y1="447.70" x2="320.95" y2="452.30" stroke="#333" stroke-width="0.9"/>
<line x1="330.45" y1="427.74" x2="330.45" y2="429.97" stroke="#444" stroke-width="1.2"/>
<line x1="327.85" y1="427.74" x2="333.05" y2="427.74" stroke="#333" stroke-width="1.3"/>
<rect x="326.70" y="429.97" width="7.50" height="15.23" fill="#000" stroke="#111" stroke-width="1"/>
<line x1="329.15" y1="449.80" x2="331.75" y2="449.80" stroke="#333" stroke-width="0.9"/>
<line x1="340.05" y1="423.18" x2="340.05" y2="425.31" stroke="#444" stroke-width="1.2"/>
<line x1="337.45" y1="423.18" x2="342.65" y2="423.18" stroke="#333" stroke-width="1.3"/>
<rect x="336.30" y="425.31" width="7.50" height="19.88" fill="#000" stroke="#111" stroke-width="1"/>
<line x1="337.75" y1="450.00" x2="342.35" y2="450.00" stroke="#333" stroke-width="0.9"/>
<line x1="340.05" y1="447.70" x2="340.05" y2="452.30" stroke="#333" stroke-width="0.9"/>
<line x1="349.15" y1="420.17" x2="349.15" y2="424.15" stroke="#444" stroke-width="1.2"/>
<line x1="346.55" y1="420.17" x2="351.75" y2="420.17" stroke="#333" stroke-width="1.3"/>
<rect x="345.40" y="424.15" width="7.50" height="21.05" fill="#aaa" stroke="#111" stroke-width="1"/>
<line x1="347.85" y1="449.80" x2="350.45" y2="449.80" stroke="#333" stroke-width="0.9"/>
<line x1="359.35" y1="433.56" x2="359.35" y2="435.21" stroke="#444" stroke-width="1.2"/>
<line x1="356.75" y1="433.56" x2="361.95" y2="433.56" stroke="#333" stroke-width="1.3"/>
<rect x="355.60" y="435.21" width="7.50" height="9.99" fill="#aaa" stroke="#111" stroke-width="1"/>
<line x1="357.05" y1="450.00" x2="361.65" y2="450.00" stroke="#333" stroke-width="0.9"/>
<line x1="359.35" y1="447.70" x2="359.35" y2="452.30" stroke="#333" stroke-width="0.9"/>
<path d="M302.50,454 V457.8 H363.30 V454" fill="none" stroke="#222" stroke-width="1.3"/>
<text x="310.64" y="470.20" font-size="10.2" textLength="42.54" lengthAdjust="spacingAndGlyphs" >upstream</text>
<line x1="379.55" y1="389.72" x2="379.55" y2="390.59" stroke="#444" stroke-width="1.2"/>
<line x1="376.95" y1="389.72" x2="382.15" y2="389.72" stroke="#333" stroke-width="1.3"/>
<rect x="375.80" y="390.59" width="7.50" height="54.61" fill="#fff" stroke="#111" stroke-width="1"/>
<line x1="378.25" y1="449.80" x2="380.85" y2="449.80" stroke="#333" stroke-width="0.9"/>
<line x1="389.35" y1="403.68" x2="389.35" y2="404.94" stroke="#444" stroke-width="1.2"/>
<line x1="386.75" y1="403.68" x2="391.95" y2="403.68" stroke="#333" stroke-width="1.3"/>
<rect x="385.60" y="404.94" width="7.50" height="40.25" fill="#fff" stroke="#111" stroke-width="1"/>
<line x1="387.05" y1="450.00" x2="391.65" y2="450.00" stroke="#333" stroke-width="0.9"/>
<line x1="389.35" y1="447.70" x2="389.35" y2="452.30" stroke="#333" stroke-width="0.9"/>
<line x1="399.25" y1="361.29" x2="399.25" y2="362.75" stroke="#444" stroke-width="1.2"/>
<line x1="396.65" y1="361.29" x2="401.85" y2="361.29" stroke="#333" stroke-width="1.3"/>
<rect x="395.50" y="362.75" width="7.50" height="82.45" fill="#000" stroke="#111" stroke-width="1"/>
<line x1="397.95" y1="449.80" x2="400.55" y2="449.80" stroke="#333" stroke-width="0.9"/>
<line x1="406.35" y1="434.63" x2="411.55" y2="434.63" stroke="#333" stroke-width="1.3"/>
<rect x="405.20" y="434.63" width="7.50" height="10.57" fill="#000" stroke="#111" stroke-width="1"/>
<polygon points="408.95,426.90 409.45,427.91 410.57,428.07 409.76,428.86 409.95,429.98 408.95,429.45 407.95,429.98 408.14,428.86 407.33,428.07 408.45,427.91" fill="#111" stroke="#111" stroke-width="0.6" stroke-linejoin="round"/>
<line x1="406.65" y1="450.00" x2="411.25" y2="450.00" stroke="#333" stroke-width="0.9"/>
<line x1="408.95" y1="447.70" x2="408.95" y2="452.30" stroke="#333" stroke-width="0.9"/>
<line x1="418.45" y1="374.10" x2="418.45" y2="374.97" stroke="#444" stroke-width="1.2"/>
<line x1="415.85" y1="374.10" x2="421.05" y2="374.10" stroke="#333" stroke-width="1.3"/>
<rect x="414.70" y="374.97" width="7.50" height="70.23" fill="#aaa" stroke="#111" stroke-width="1"/>
<line x1="417.15" y1="449.80" x2="419.75" y2="449.80" stroke="#333" stroke-width="0.9"/>
<line x1="425.75" y1="435.50" x2="430.95" y2="435.50" stroke="#333" stroke-width="1.3"/>
<rect x="424.60" y="435.50" width="7.50" height="9.70" fill="#aaa" stroke="#111" stroke-width="1"/>
<polygon points="428.35,426.90 428.85,427.91 429.97,428.07 429.16,428.86 429.35,429.98 428.35,429.45 427.35,429.98 427.54,428.86 426.73,428.07 427.85,427.91" fill="#111" stroke="#111" stroke-width="0.6" stroke-linejoin="round"/>
<line x1="426.05" y1="450.00" x2="430.65" y2="450.00" stroke="#333" stroke-width="0.9"/>
<line x1="428.35" y1="447.70" x2="428.35" y2="452.30" stroke="#333" stroke-width="0.9"/>
<path d="M374.90,454 V457.8 H434.60 V454" fill="none" stroke="#222" stroke-width="1.3"/>
<text x="376.04" y="470.10" font-size="10.2" textLength="46.95" lengthAdjust="spacingAndGlyphs" >proximal 1</text>
<line x1="447.75" y1="405.43" x2="447.75" y2="407.37" stroke="#444" stroke-width="1.2"/>
<line x1="445.15" y1="405.43" x2="450.35" y2="405.43" stroke="#333" stroke-width="1.3"/>
<rect x="444.00" y="407.37" width="7.50" height="37.83" fill="#fff" stroke="#111" stroke-width="1"/>
<line x1="446.45" y1="449.80" x2="449.05" y2="449.80" stroke="#333" stroke-width="0.9"/>
<line x1="457.85" y1="410.28" x2="457.85" y2="416.10" stroke="#444" stroke-width="1.2"/>
<line x1="455.25" y1="410.28" x2="460.45" y2="410.28" stroke="#333" stroke-width="1.3"/>
<rect x="454.10" y="416.10" width="7.50" height="29.10" fill="#fff" stroke="#111" stroke-width="1"/>
<line x1="455.55" y1="450.00" x2="460.15" y2="450.00" stroke="#333" stroke-width="0.9"/>
<line x1="457.85" y1="447.70" x2="457.85" y2="452.30" stroke="#333" stroke-width="0.9"/>
<line x1="467.55" y1="354.99" x2="467.55" y2="357.90" stroke="#444" stroke-width="1.2"/>
<line x1="464.95" y1="354.99" x2="470.15" y2="354.99" stroke="#333" stroke-width="1.3"/>
<rect x="463.80" y="357.90" width="7.50" height="87.30" fill="#000" stroke="#111" stroke-width="1"/>
<line x1="466.25" y1="449.80" x2="468.85" y2="449.80" stroke="#333" stroke-width="0.9"/>
<line x1="477.25" y1="433.56" x2="477.25" y2="435.50" stroke="#444" stroke-width="1.2"/>
<line x1="474.65" y1="433.56" x2="479.85" y2="433.56" stroke="#333" stroke-width="1.3"/>
<rect x="473.50" y="435.50" width="7.50" height="9.70" fill="#000" stroke="#111" stroke-width="1"/>
<polygon points="477.25,426.90 477.75,427.91 478.87,428.07 478.06,428.86 478.25,429.98 477.25,429.45 476.25,429.98 476.44,428.86 475.63,428.07 476.75,427.91" fill="#111" stroke="#111" stroke-width="0.6" stroke-linejoin="round"/>
<line x1="474.95" y1="450.00" x2="479.55" y2="450.00" stroke="#333" stroke-width="0.9"/>
<line x1="477.25" y1="447.70" x2="477.25" y2="452.30" stroke="#333" stroke-width="0.9"/>
<line x1="487.15" y1="328.80" x2="487.15" y2="344.32" stroke="#444" stroke-width="1.2"/>
<line x1="484.55" y1="328.80" x2="489.75" y2="328.80" stroke="#333" stroke-width="1.3"/>
<rect x="483.40" y="344.32" width="7.50" height="100.88" fill="#aaa" stroke="#111" stroke-width="1"/>
<line x1="485.85" y1="449.80" x2="488.45" y2="449.80" stroke="#333" stroke-width="0.9"/>
<line x1="497.25" y1="431.13" x2="497.25" y2="433.07" stroke="#444" stroke-width="1.2"/>
<line x1="494.65" y1="431.13" x2="499.85" y2="431.13" stroke="#333" stroke-width="1.3"/>
<rect x="493.50" y="433.07" width="7.50" height="12.12" fill="#aaa" stroke="#111" stroke-width="1"/>
<polygon points="497.25,426.90 497.75,427.91 498.87,428.07 498.06,428.86 498.25,429.98 497.25,429.45 496.25,429.98 496.44,428.86 495.63,428.07 496.75,427.91" fill="#111" stroke="#111" stroke-width="0.6" stroke-linejoin="round"/>
<line x1="494.95" y1="450.00" x2="499.55" y2="450.00" stroke="#333" stroke-width="0.9"/>
<line x1="497.25" y1="447.70" x2="497.25" y2="452.30" stroke="#333" stroke-width="0.9"/>
<path d="M441.40,454 V457.8 H501.80 V454" fill="none" stroke="#222" stroke-width="1.3"/>
<text x="441.44" y="469.40" font-size="10.2" textLength="46.77" lengthAdjust="spacingAndGlyphs" >proximal 2</text>
<text x="287.51" y="457.60" font-size="10.0" textLength="13.24" lengthAdjust="spacingAndGlyphs" >E2</text>
</svg></body></html>
